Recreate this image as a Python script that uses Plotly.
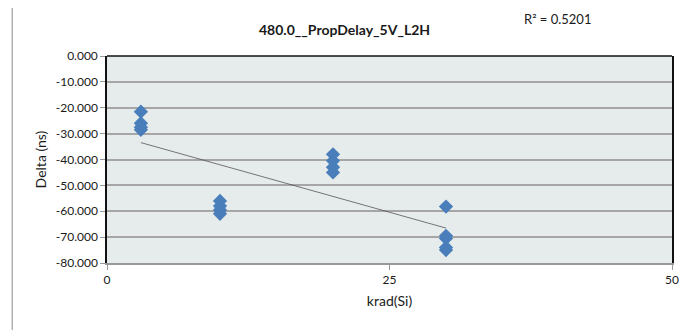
import numpy as np
import plotly.graph_objects as go

# Data
krad = [3, 3, 3, 3, 10, 10, 10, 10, 20, 20, 20, 20, 30, 30, 30, 30, 30]
delta = [-21.5, -26.0, -27.5, -28.5,
         -56.0, -58.0, -59.5, -61.0,
         -38.0, -40.5, -43.0, -45.0,
         -58.2, -69.5, -70.5, -74.0, -75.0]
title_text = "480.0__PropDelay_5V_L2H"
r2_text = "R² = 0.5201"
y_ticks = [0, -10, -20, -30, -40, -50, -60, -70, -80]
y_tick_labels = [f"{v:.3f}" for v in y_ticks]
x_ticks = [0, 25, 50]

# page has an 8px body margin; figure is sized to fill the rest
OFF = 8
W, H = 687 - OFF, 330 - OFF
L, R, T, B = 107 - OFF, 8, 56 - OFF, 67

slope, intercept = np.polyfit(krad, delta, 1)
xfit = np.array([min(krad), max(krad)])
yfit = slope * xfit + intercept

font = "Lato, 'Liberation Sans', sans-serif"

fig = go.Figure()
fig.add_trace(go.Scatter(x=list(xfit), y=list(yfit), mode="lines",
                         line=dict(color="#555555", width=0.8),
                         hoverinfo="skip", showlegend=False))
fig.add_trace(go.Scatter(x=krad, y=delta, mode="markers",
                         marker=dict(symbol="diamond", size=11, color="#4a7ebb",
                                     line=dict(width=0)),
                         showlegend=False))

pw = W - L - R
ph = H - T - B

def px_x(page_x):
    return (page_x - OFF - L) / pw

def px_y(page_y):
    return 1 + (T - (page_y - OFF)) / ph

fig.update_layout(
    width=W, height=H,
    margin=dict(l=L, r=R, t=T, b=B, pad=0),
    paper_bgcolor="white",
    plot_bgcolor="#e6ecec",
    font=dict(family=font, size=12, color="#1a1a1a"),
    xaxis=dict(range=[0, 50], tickvals=x_ticks, showgrid=False, zeroline=False,
               showline=True, linecolor="#999999", linewidth=2,
               ticks="outside", ticklen=5, tickcolor="#999999",
               title=dict(text="krad(Si)", font=dict(size=14), standoff=10)),
    yaxis=dict(range=[-80, 0], tickvals=y_ticks, ticktext=y_tick_labels,
               showgrid=True, gridcolor="#a6a6a6", gridwidth=1.5, zeroline=False,
               showline=True, linecolor="#111111", linewidth=1.5, mirror=True,
               ticks="outside", ticklen=5, tickcolor="#999999",
               title=dict(text="Delta (ns)", font=dict(size=14), standoff=6)),
    shapes=[
        dict(type="line", xref="paper", yref="paper", x0=0, x1=1, y0=1, y1=1,
             line=dict(color="#111111", width=1.5)),
        dict(type="rect", xref="paper", yref="paper",
             x0=px_x(11), x1=px_x(700),
             y0=px_y(360), y1=px_y(5),
             line=dict(color="#8c8c8c", width=1), layer="below"),
    ],
    annotations=[
        dict(text="<b>" + title_text + "</b>", xref="paper", yref="paper",
             x=px_x(347), y=px_y(29), showarrow=False,
             font=dict(size=14, family=font), xanchor="center", yanchor="middle"),
        dict(text=r2_text, xref="paper", yref="paper",
             x=px_x(563), y=px_y(19), showarrow=False,
             font=dict(size=13, family=font), xanchor="center", yanchor="middle"),
    ],
)

fig.write_html("out.html")
